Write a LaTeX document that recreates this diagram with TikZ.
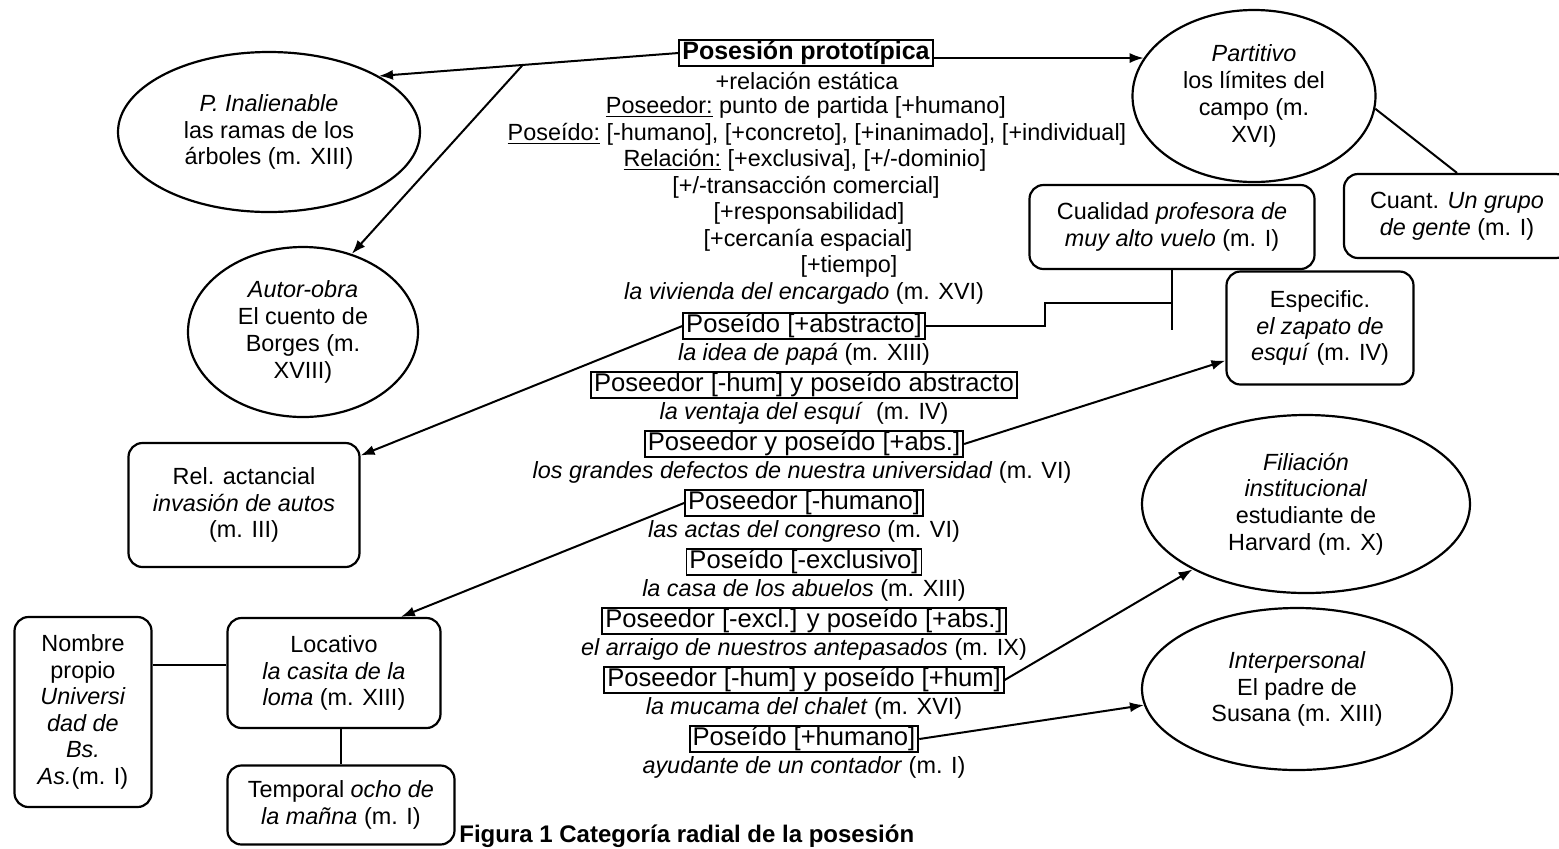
\documentclass[tikz,border=0pt]{standalone}
\usepackage{fontspec}
\setmainfont{Liberation Sans}
\usetikzlibrary{shapes.geometric,arrows.meta,calc}
\begin{document}
\begin{tikzpicture}[x=0.5pt,y=-0.5pt,
  txt/.style={font=\fontsize{11.7}{13.5}\selectfont, inner sep=0pt},
  bx/.style={draw, line width=0.9pt, font=\fontsize{12.8}{14}\selectfont, inner xsep=1.5pt, inner ysep=0.6pt},
  ell/.style={ellipse, draw, line width=1.1pt, align=center, font=\fontsize{11.7}{13.4}\selectfont, inner sep=0pt},
  rbox/.style={rectangle, rounded corners=7pt, draw, line width=1.1pt, align=center, font=\fontsize{11.7}{13.3}\selectfont, inner sep=0pt},
  arr/.style={line width=1pt, -{Latex[length=7pt,width=5pt]}},
  ln/.style={line width=1pt}]
\useasboundingbox (0,0) rectangle (1559,848);

% central column
\node[draw, line width=0.9pt, font=\bfseries\fontsize{12.5}{14}\selectfont, inner xsep=1.5pt, inner ysep=0.8pt] (posesion) at (806,53) {Posesión prototípica};
\node[txt] (l1) at (807,81) {+relación estática};
\node[txt] (l2) at (806,107.5) {\underline{Poseedor:} punto de partida [+humano]};
\node[txt] (l3) at (817,134) {\underline{Poseído:} [-humano], [+concreto], [+inanimado], [+individual]};
\node[txt] (l4) at (805,160.5) {\underline{Relación:} [+exclusiva], [+/-dominio]};
\node[txt] (l5) at (806,187) {[+/-transacción comercial]};
\node[txt] (l6) at (809,213.5) {[+responsabilidad]};
\node[txt] (l7) at (808,240) {[+cercanía espacial]};
\node[txt] (l8) at (849,266.5) {[+tiempo]};
\node[txt] (l9) at (804,293) {\textit{la vivienda del encargado} (m. XVI)};

\node[bx] (b1) at (804,326) {Poseído [+abstracto]};
\node[txt] (i1) at (804,354) {\textit{la idea de papá} (m. XIII)};
\node[bx] (b2) at (804,385) {Poseedor [-hum] y poseído abstracto};
\node[txt] (i2) at (804,413) {\textit{la ventaja del esquí}\ \ (m. IV)};
\node[bx] (b3) at (804,444) {Poseedor y poseído [+abs.]};
\node[txt] (i3) at (802,472) {\textit{los grandes defectos de nuestra universidad} (m. VI)};
\node[bx] (b4) at (804,503) {Poseedor [-humano]};
\node[txt] (i4) at (804,531) {\textit{las actas del congreso} (m. VI)};
\node[bx] (b5) at (804,562) {Poseído [-exclusivo]};
\node[txt] (i5) at (804,590) {\textit{la casa de los abuelos} (m. XIII)};
\node[bx] (b6) at (804,621) {Poseedor [-excl.] y poseído [+abs.]};
\node[txt] (i6) at (804,649) {\textit{el arraigo de nuestros antepasados} (m. IX)};
\node[bx] (b7) at (804,680) {Poseedor [-hum] y poseído [+hum]};
\node[txt] (i7) at (804,708) {\textit{la mucama del chalet} (m. XVI)};
\node[bx] (b8) at (804,739) {Poseído [+humano]};
\node[txt] (i8) at (804,767) {\textit{ayudante de un contador} (m. I)};

% ellipses
\node[ell, minimum width=151pt, minimum height=80pt] (pinal) at (269,132) {\textit{P. Inalienable}\\las ramas de los\\árboles (m. XIII)};
\node[ell, minimum width=115pt, minimum height=85pt] (autor) at (303,332) {\textit{Autor-obra}\\El cuento de\\Borges (m.\\XVIII)};
\node[ell, minimum width=121.5pt, minimum height=86pt] (partitivo) at (1254,96) {\textit{Partitivo}\\los límites del\\campo (m.\\XVI)};
\node[ell, minimum width=164pt, minimum height=89pt] (filiacion) at (1306,504) {\textit{Filiación}\\\textit{institucional}\\estudiante de\\Harvard (m. X)};
\node[ell, minimum width=155pt, minimum height=81pt] (interp) at (1297,689) {\textit{Interpersonal}\\El padre de\\Susana (m. XIII)};

% rounded boxes
\node[rbox, minimum width=142.5pt, minimum height=42pt] (cualidad) at (1172,227) {Cualidad \textit{profesora de}\\\textit{muy alto vuelo} (m. I)};
\node[rbox, minimum width=113pt, minimum height=42pt] (cuant) at (1457,216) {Cuant. \textit{Un grupo}\\\textit{de gente} (m. I)};
\node[rbox, minimum width=93.5pt, minimum height=56.5pt] (especific) at (1320,328) {Especific.\\\textit{el zapato de}\\\textit{esquí} (m. IV)};
\node[rbox, minimum width=115.5pt, minimum height=62pt] (relact) at (244,505) {Rel. actancial\\\textit{invasión de autos}\\(m. III)};
\node[rbox, minimum width=106.5pt, minimum height=55pt] (locativo) at (334,673) {Locativo\\\textit{la casita de la}\\\textit{loma} (m. XIII)};
\node[rbox, minimum width=68.5pt, minimum height=95pt] (nombre) at (83,712) {Nombre\\propio\\\textit{Universi}\\\textit{dad de}\\\textit{Bs.}\\\textit{As.}(m. I)};
\node[rbox, minimum width=113.5pt, minimum height=39.5pt] (temporal) at (341,805) {Temporal \textit{ocho de}\\\textit{la mañna} (m. I)};

% caption
\node[font=\bfseries\fontsize{12}{14}\selectfont, anchor=base west, inner sep=0pt] (caption) at (459,842) {Figura 1 Categoría radial de la posesión};

% connectors
\draw[arr] (posesion.west) -- coordinate[pos=0.52] (br) (pinal.27);
\draw[arr] (br) -- (autor.58);
\draw[arr] (posesion.east |- partitivo.161) -- (partitivo.161);
\draw[ln] (partitivo.-6) -- (cuant.north);
\draw[arr] (b1.west) -- (relact.23.7);
\coordinate (bend) at (1045,303);
\coordinate (cualend) at (1172,330);
\draw[ln] (b1.east) -| (bend) -- (bend -| cualidad.south);
\draw[ln] (cualidad.south) -- (cualend);
\draw[arr] (b3.east) -- (especific.199);
\draw[arr] (b4.west) -- (locativo.40);
\draw[ln] ([yshift=4pt]locativo.west) -- ([yshift=4pt]locativo.west -| nombre.east);
\draw[ln] (locativo.south -| temporal.north) -- (temporal.north);
\draw[arr] (b7.east) -- (filiacion.210.7);
\draw[arr] (b8.east) -- (interp.186);
\end{tikzpicture}
\end{document}
